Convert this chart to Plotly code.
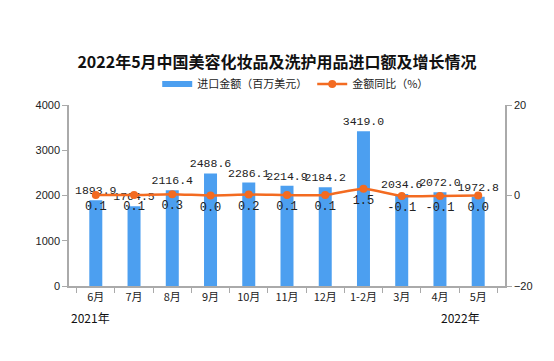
import plotly.graph_objects as go

categories = ["6月", "7月", "8月", "9月", "10月", "11月", "12月", "1-2月", "3月", "4月", "5月"]
import_amount = [1893.9, 1764.5, 2116.4, 2488.6, 2286.1, 2214.9, 2184.2, 3419.0, 2034.6, 2072.0, 1972.8]
yoy = [0.1, 0.1, 0.3, 0.0, 0.2, 0.1, 0.1, 1.5, -0.1, -0.1, 0.0]
left_ticks = [0, 1000, 2000, 3000, 4000]
right_ticks = [-20, 0, 20]

bar_color = "#4C9FF0"
line_color = "#F36B21"
num_font = "Liberation Mono, DejaVu Sans Mono, monospace"
cjk_font = "Noto Sans CJK SC"

fig = go.Figure()
fig.add_trace(go.Bar(
    x=categories, y=import_amount, name="进口金额（百万美元）", showlegend=False,
    marker_color=bar_color, width=0.34,
    text=[f"{v:.1f}" for v in import_amount], textposition="outside",
    constraintext="none",
    textfont=dict(family=num_font, size=11.5, color="#222"),
    cliponaxis=False,
))
# legend swatch for bars (wide rectangle like the reference)
fig.add_trace(go.Scatter(
    x=[None], y=[None], name="进口金额（百万美元）", mode="lines",
    line=dict(color=bar_color, width=6), showlegend=True,
))
fig.add_trace(go.Scatter(
    x=categories, y=yoy, name="金额同比（%）", yaxis="y2",
    mode="lines+markers+text", line=dict(color=line_color, width=2.5, shape="spline", smoothing=0.6),
    marker=dict(color=line_color, size=8),
    text=[f"{v:.1f}" for v in yoy], textposition="bottom center",
    textfont=dict(family=num_font, size=12, color="#222"),
    cliponaxis=False,
))

fig.update_layout(
    template="none",
    width=554, height=361,
    margin=dict(l=69, r=49, t=105, b=75, autoexpand=False),
    paper_bgcolor="white", plot_bgcolor="white",
    font=dict(family=cjk_font, size=11, color="#222"),
    title=dict(text="<b>2022年5月中国美容化妆品及洗护用品进口额及增长情况</b>",
               x=0.5, xanchor="center", y=0.828, yanchor="middle",
               font=dict(family=cjk_font, size=16, color="#111")),
    legend=dict(orientation="h", x=0.52, xanchor="center", yref="container", y=0.767, yanchor="middle",
                font=dict(family=cjk_font, size=11), bgcolor="rgba(0,0,0,0)",
                itemwidth=30, tracegroupgap=0),
    showlegend=True,
    xaxis=dict(showline=True, linecolor="#AAAAAA", linewidth=1.5, ticks="outside",
               tickcolor="#AAAAAA", ticklen=5, tickson="boundaries", automargin=False,
               tickfont=dict(family=cjk_font, size=11, color="#222"), showgrid=False),
    yaxis=dict(range=[0, 4000], tickvals=left_ticks, showline=True, linecolor="#AAAAAA",
               linewidth=1.5, ticks="outside", tickcolor="#AAAAAA", ticklen=5,
               showgrid=False, zeroline=False, automargin=False,
               tickfont=dict(family="Liberation Sans", size=11, color="#222")),
    yaxis2=dict(range=[-20, 20], tickvals=right_ticks, overlaying="y", side="right",
                showline=True, linecolor="#AAAAAA", linewidth=1.5, ticks="outside",
                tickcolor="#AAAAAA", ticklen=5, showgrid=False, zeroline=False, automargin=False,
                tickfont=dict(family="Liberation Sans", size=11, color="#222")),
    bargap=0.5,
)

fig.add_annotation(text="2021年", xref="paper", yref="paper", x=0.0, y=-0.176,
                   xanchor="left", yanchor="middle", showarrow=False,
                   font=dict(family=cjk_font, size=12, color="#111"))
fig.add_annotation(text="2022年", xref="paper", yref="paper", x=0.947, y=-0.176,
                   xanchor="right", yanchor="middle", showarrow=False,
                   font=dict(family=cjk_font, size=12, color="#111"))

fig.write_html("out.html", config={"displayModeBar": False},
               post_script="document.body.style.margin='0';document.body.style.overflow='hidden';")
